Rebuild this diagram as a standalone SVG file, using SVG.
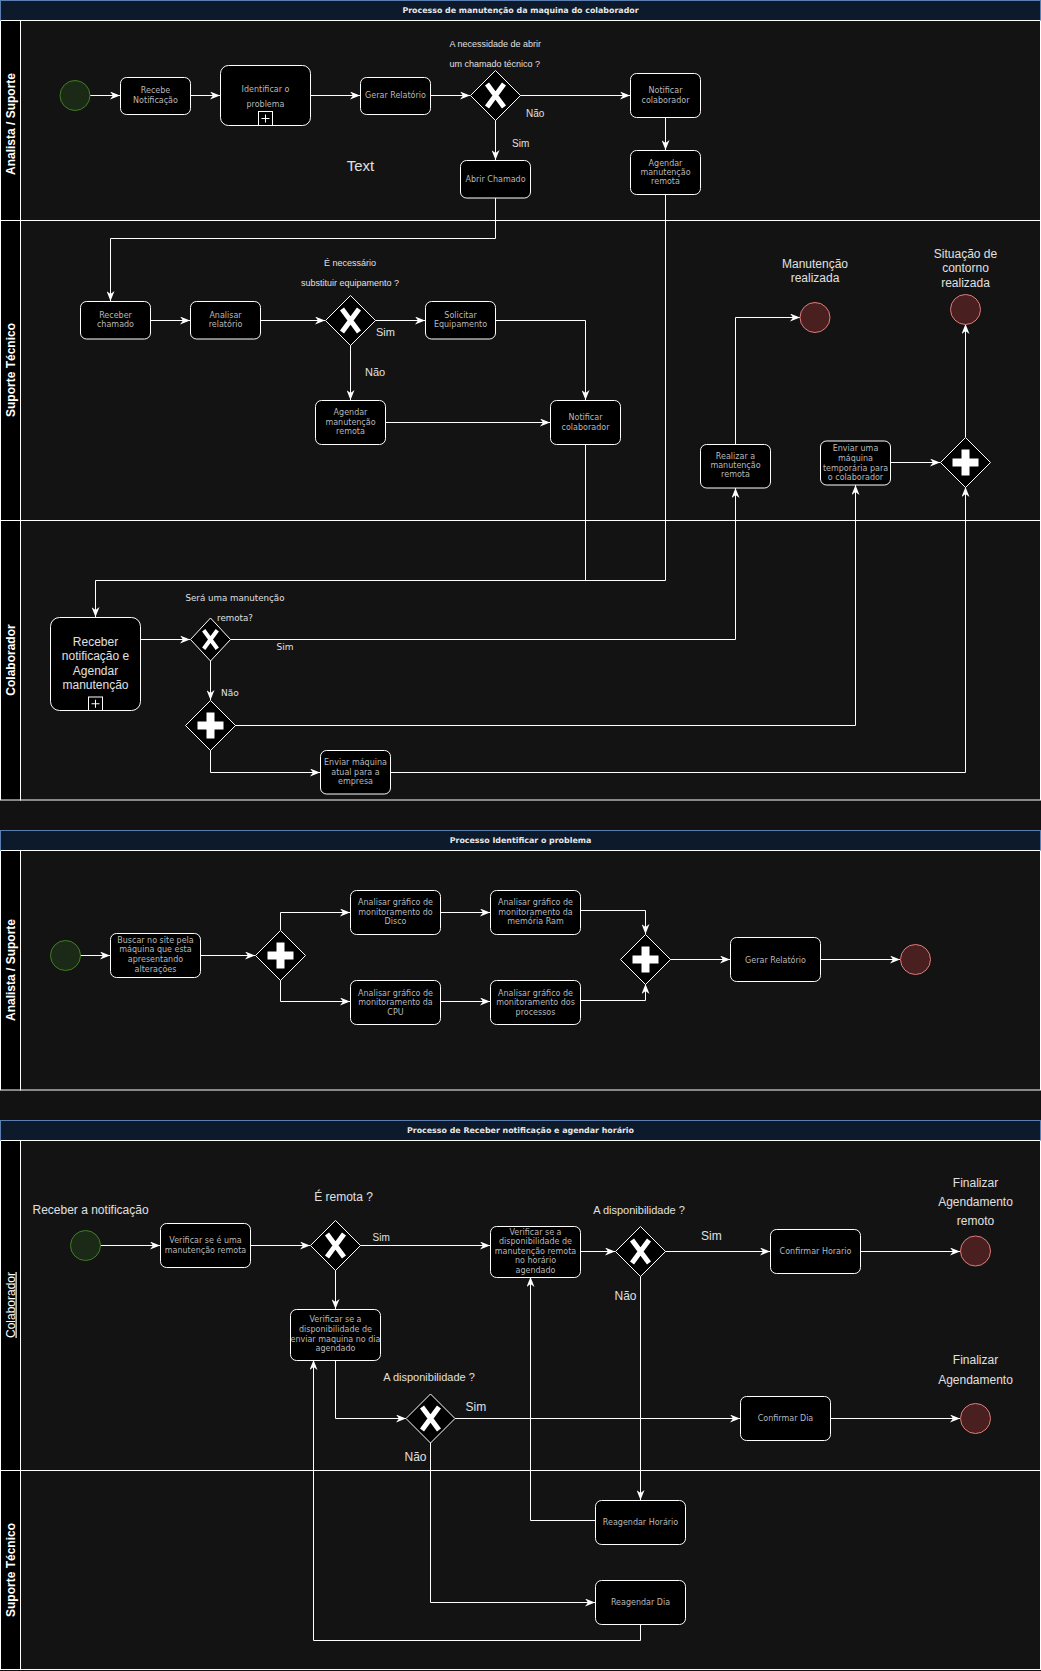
<svg xmlns="http://www.w3.org/2000/svg" xmlns:xlink="http://www.w3.org/1999/xlink" width="1041" height="1671" viewBox="0 0 1041 1671">
<defs>
<style>
.bg{fill:#121212}
.title{fill:#0d1a2c;stroke:#5b7fb0;stroke-width:1}
.titletxt{font-family:"DejaVu Sans",sans-serif;font-weight:bold;font-size:7.9px;fill:#e6e6e6;text-anchor:middle}
.lane{fill:#131313;stroke:#fff;stroke-width:1}
.laneh{fill:#000;stroke:#fff;stroke-width:1}
.sep{stroke:#fff;stroke-width:1}
.lanetxt{font-family:"Liberation Sans",Arial,sans-serif;font-weight:bold;font-size:12px;fill:#fff;text-anchor:middle}
.task{fill:#000;stroke:#fff;stroke-width:1}
.tt{font-family:"DejaVu Sans",sans-serif;font-size:8px;fill:#b8b8b8;text-anchor:middle}
.gw{fill:#000;stroke:#fff;stroke-width:1}
.start{fill:#1b2a16;stroke:#3f7f22;stroke-width:1}
.end{fill:#4a1f1f;stroke:#e07b7b;stroke-width:1}
.lbl{font-family:"Liberation Sans",Arial,sans-serif;fill:#e0e0e0}
.lbd{font-family:"DejaVu Sans",sans-serif;fill:#e0e0e0}
.c{fill:none;stroke:#fff;stroke-width:1}
.ca{fill:none;stroke:#fff;stroke-width:1;marker-end:url(#arr)}
</style>
<marker id="arr" viewBox="0 0 10 8" refX="10" refY="4" markerWidth="10" markerHeight="8" markerUnits="userSpaceOnUse" orient="auto">
<path d="M0,0 L10,4 L0,8 L3,4 Z" fill="#fff"/>
</marker>
<g id="xmark"><path d="M-8.5,-11.5 L8.5,11.5 M8.5,-11.5 L-8.5,11.5" stroke="#fff" stroke-width="5" fill="none"/></g>
<g id="plusmark"><rect x="-13" y="-4" width="26" height="8" fill="#fff"/><rect x="-4" y="-13" width="8" height="26" fill="#fff"/></g>
</defs>

<rect class="bg" x="0" y="0" width="1041" height="1671"/>

<!-- ===== Pool 1 ===== -->
<g id="pool1">
<rect class="lane" x="20.5" y="20.5" width="1020" height="779.5"/>
<rect class="laneh" x="0.5" y="20.5" width="20" height="779.5"/>
<line class="sep" x1="0.5" y1="220.5" x2="1040.5" y2="220.5"/>
<line class="sep" x1="0.5" y1="520.5" x2="1040.5" y2="520.5"/>
<rect class="title" x="0.5" y="0.5" width="1040" height="20"/>
<line class="sep" x1="0.5" y1="20.5" x2="1040.5" y2="20.5"/>
<text class="titletxt" x="520.5" y="13">Processo de manutenção da maquina do colaborador</text>
<text class="lanetxt" transform="translate(10.5,124) rotate(-90)" y="4">Analista / Suporte</text>
<text class="lanetxt" transform="translate(10.5,370) rotate(-90)" y="4">Suporte Técnico</text>
<text class="lanetxt" transform="translate(10.5,660) rotate(-90)" y="4">Colaborador</text>
</g>

<!-- ===== Pool 2 ===== -->
<g id="pool2">
<rect class="lane" x="20.5" y="850.5" width="1020" height="239.5"/>
<rect class="laneh" x="0.5" y="850.5" width="20" height="239.5"/>
<rect class="title" x="0.5" y="830.5" width="1040" height="20"/>
<line class="sep" x1="0.5" y1="850.5" x2="1040.5" y2="850.5"/>
<text class="titletxt" x="520.5" y="843">Processo Identificar o problema</text>
<text class="lanetxt" transform="translate(10.5,970) rotate(-90)" y="4">Analista / Suporte</text>
</g>

<!-- ===== Pool 3 ===== -->
<g id="pool3">
<rect class="lane" x="20.5" y="1140.5" width="1020" height="529"/>
<rect class="laneh" x="0.5" y="1140.5" width="20" height="529"/>
<line class="sep" x1="0.5" y1="1470.5" x2="1040.5" y2="1470.5"/>
<rect class="title" x="0.5" y="1120.5" width="1040" height="20"/>
<line class="sep" x1="0.5" y1="1140.5" x2="1040.5" y2="1140.5"/>
<text class="titletxt" x="520.5" y="1133">Processo de Receber notificação e agendar horário</text>
<text class="lanetxt" transform="translate(10.5,1305) rotate(-90)" y="4" style="font-weight:normal;text-decoration:underline">Colaborador</text>
<text class="lanetxt" transform="translate(10.5,1570) rotate(-90)" y="4">Suporte Técnico</text>
</g>

<!-- ===== Connectors ===== -->
<g id="connectors">
<!-- pool 1 -->
<path class="ca" d="M90,95.5 L120,95.5"/>
<path class="ca" d="M190,95.5 L220,95.5"/>
<path class="ca" d="M310,95.5 L360,95.5"/>
<path class="ca" d="M430,95.5 L470,95.5"/>
<path class="ca" d="M520,95.5 L630,95.5"/>
<path class="ca" d="M495.5,120 L495.5,160"/>
<path class="ca" d="M665.5,117 L665.5,150"/>
<path class="ca" d="M495.5,198 L495.5,238.5 L110.5,238.5 L110.5,301"/>
<path class="ca" d="M150,320.5 L190,320.5"/>
<path class="ca" d="M260,320.5 L325,320.5"/>
<path class="ca" d="M375,320.5 L425,320.5"/>
<path class="ca" d="M350.5,345 L350.5,400"/>
<path class="ca" d="M495,320.5 L585.5,320.5 L585.5,400"/>
<path class="ca" d="M385,422.5 L550,422.5"/>
<path class="c" d="M585.5,444 L585.5,580.5"/>
<path class="ca" d="M665.5,194 L665.5,580.5 L95.5,580.5 L95.5,617"/>
<path class="ca" d="M140,639.5 L190,639.5"/>
<path class="ca" d="M230,639.5 L735.5,639.5 L735.5,488"/>
<path class="ca" d="M735.5,444 L735.5,317.5 L800,317.5"/>
<path class="ca" d="M210.5,660 L210.5,700"/>
<path class="ca" d="M235,725.5 L855.5,725.5 L855.5,485"/>
<path class="ca" d="M210.5,750 L210.5,772.5 L320,772.5"/>
<path class="ca" d="M390,772.5 L965.5,772.5 L965.5,487"/>
<path class="ca" d="M890,462.5 L940,462.5"/>
<path class="ca" d="M965.5,437 L965.5,324"/>
<!-- pool 2 -->
<path class="ca" d="M80,955.5 L110,955.5"/>
<path class="ca" d="M200,955.5 L255,955.5"/>
<path class="ca" d="M280.5,930 L280.5,912.5 L350,912.5"/>
<path class="ca" d="M280.5,980 L280.5,1001.5 L350,1001.5"/>
<path class="ca" d="M440,912.5 L490,912.5"/>
<path class="ca" d="M440,1001.5 L490,1001.5"/>
<path class="ca" d="M580,910.5 L645.5,910.5 L645.5,934"/>
<path class="ca" d="M580,1000.5 L645.5,1000.5 L645.5,984"/>
<path class="ca" d="M670,959.5 L730,959.5"/>
<path class="ca" d="M820,959.5 L900,959.5"/>
<!-- pool 3 -->
<path class="ca" d="M100,1245.5 L160,1245.5"/>
<path class="ca" d="M250,1245.5 L310,1245.5"/>
<path class="ca" d="M360,1245.5 L490,1245.5"/>
<path class="ca" d="M335.5,1270 L335.5,1309"/>
<path class="ca" d="M580,1251.5 L615,1251.5"/>
<path class="ca" d="M665,1251.5 L770,1251.5"/>
<path class="ca" d="M860,1251.5 L960,1251.5"/>
<path class="ca" d="M640.5,1276 L640.5,1500"/>
<path class="ca" d="M595,1520.5 L530.5,1520.5 L530.5,1277"/>
<path class="ca" d="M335.5,1360 L335.5,1418.5 L406,1418.5"/>
<path class="ca" d="M455,1418.5 L740,1418.5"/>
<path class="ca" d="M830,1418.5 L960,1418.5"/>
<path class="ca" d="M430.5,1443 L430.5,1602.5 L595,1602.5"/>
<path class="ca" d="M640.5,1624 L640.5,1640.5 L313.5,1640.5 L313.5,1360"/>
</g>

<!-- ===== Pool 1 nodes ===== -->
<g id="p1-start"><circle class="start" cx="75" cy="95.5" r="15"/></g>
<g id="p1-recebe"><rect class="task" x="120.5" y="77.5" width="70" height="37" rx="6"/>
<text class="tt" x="155.5" y="93">Recebe</text><text class="tt" x="155.5" y="103">Notificação</text></g>
<g id="p1-identificar"><rect class="task" x="220.5" y="65.5" width="90" height="60" rx="8"/>
<text class="tt" x="265.5" y="92">Identificar o</text><text class="tt" x="265.5" y="107">problema</text>
<rect x="258.5" y="111.5" width="14" height="14" fill="#000" stroke="#fff"/>
<path d="M261.5,118.5 H269.5 M265.5,114.5 V122.5" stroke="#fff" stroke-width="1"/></g>
<g id="p1-gerar"><rect class="task" x="360.5" y="77.5" width="70" height="37" rx="6"/>
<text class="tt" x="395.5" y="98">Gerar Relatório</text></g>
<g id="p1-gw1"><polygon class="gw" points="495.5,70.5 520.5,95.5 495.5,120.5 470.5,95.5"/><use xlink:href="#xmark" transform="translate(495.5,95.5)"/>
<text class="lbl" x="449.5" y="46.5" font-size="9">A necessidade de abrir</text>
<text class="lbl" x="449.5" y="66.5" font-size="9">um chamado técnico ?</text></g>
<g id="p1-lbl-nao1"><text class="lbl" x="526" y="116.5" font-size="10">Não</text></g>
<g id="p1-lbl-sim1"><text class="lbl" x="512" y="146.5" font-size="10">Sim</text></g>
<g id="p1-text"><text class="lbl" x="360.5" y="171" font-size="15" text-anchor="middle">Text</text></g>
<g id="p1-abrir"><rect class="task" x="460.5" y="160.5" width="70" height="37.5" rx="6"/>
<text class="tt" x="495.5" y="182">Abrir Chamado</text></g>
<g id="p1-notificar1"><rect class="task" x="630.5" y="73.5" width="70" height="44" rx="6"/>
<text class="tt" x="665.5" y="93">Notificar</text><text class="tt" x="665.5" y="103">colaborador</text></g>
<g id="p1-agendar1"><rect class="task" x="630.5" y="150.5" width="70" height="44" rx="6"/>
<text class="tt" x="665.5" y="165.5">Agendar</text><text class="tt" x="665.5" y="174.5">manutenção</text><text class="tt" x="665.5" y="183.5">remota</text></g>

<g id="p1-receber-chamado"><rect class="task" x="80.5" y="301.5" width="70" height="37.5" rx="6"/>
<text class="tt" x="115.5" y="317.5">Receber</text><text class="tt" x="115.5" y="327">chamado</text></g>
<g id="p1-analisar"><rect class="task" x="190.5" y="301.5" width="70" height="37.5" rx="6"/>
<text class="tt" x="225.5" y="317.5">Analisar</text><text class="tt" x="225.5" y="327">relatório</text></g>
<g id="p1-gw2"><polygon class="gw" points="350.5,295.5 375.5,320.5 350.5,345.5 325.5,320.5"/><use xlink:href="#xmark" transform="translate(350.5,320.5)"/>
<text class="lbl" x="350" y="266" font-size="9" text-anchor="middle">É necessário</text>
<text class="lbl" x="350" y="286" font-size="9" text-anchor="middle">substituir equipamento ?</text></g>
<g id="p1-lbl-sim2"><text class="lbl" x="376" y="336" font-size="11">Sim</text></g>
<g id="p1-lbl-nao2"><text class="lbl" x="365" y="376" font-size="11">Não</text></g>
<g id="p1-solicitar"><rect class="task" x="425.5" y="301.5" width="70" height="37.5" rx="6"/>
<text class="tt" x="460.5" y="317.5">Solicitar</text><text class="tt" x="460.5" y="327">Equipamento</text></g>
<g id="p1-agendar2"><rect class="task" x="315.5" y="400.5" width="70" height="44" rx="6"/>
<text class="tt" x="350.5" y="415">Agendar</text><text class="tt" x="350.5" y="425">manutenção</text><text class="tt" x="350.5" y="434">remota</text></g>
<g id="p1-notificar2"><rect class="task" x="550.5" y="400.5" width="70" height="44" rx="6"/>
<text class="tt" x="585.5" y="420">Notificar</text><text class="tt" x="585.5" y="430">colaborador</text></g>
<g id="p1-realizar"><rect class="task" x="700.5" y="444.5" width="70" height="43.5" rx="6"/>
<text class="tt" x="735.5" y="458.5">Realizar a</text><text class="tt" x="735.5" y="468">manutenção</text><text class="tt" x="735.5" y="477">remota</text></g>
<g id="p1-end1"><circle class="end" cx="815" cy="317.5" r="15"/>
<text class="lbl" x="815" y="267.5" font-size="12" text-anchor="middle">Manutenção</text>
<text class="lbl" x="815" y="282" font-size="12" text-anchor="middle">realizada</text></g>
<g id="p1-enviar-temp"><rect class="task" x="820.5" y="441" width="70" height="44" rx="6"/>
<text class="tt" x="855.5" y="450.5">Enviar uma</text><text class="tt" x="855.5" y="460.5">máquina</text><text class="tt" x="855.5" y="470.5">temporária para</text><text class="tt" x="855.5" y="479.5">o colaborador</text></g>
<g id="p1-gw-plus1"><polygon class="gw" points="965.5,437.5 990.5,462.5 965.5,487.5 940.5,462.5"/><use xlink:href="#plusmark" transform="translate(965.5,462.5)"/></g>
<g id="p1-end2"><circle class="end" cx="965.5" cy="309.5" r="15"/>
<text class="lbl" x="965.5" y="257.5" font-size="12" text-anchor="middle">Situação de</text>
<text class="lbl" x="965.5" y="272" font-size="12" text-anchor="middle">contorno</text>
<text class="lbl" x="965.5" y="287" font-size="12" text-anchor="middle">realizada</text></g>

<g id="p1-receber-notif"><rect class="task" x="50.5" y="617.5" width="90" height="93" rx="9"/>
<text class="lbl" x="95.5" y="646" font-size="12" text-anchor="middle">Receber</text>
<text class="lbl" x="95.5" y="660" font-size="12" text-anchor="middle">notificação e</text>
<text class="lbl" x="95.5" y="675" font-size="12" text-anchor="middle">Agendar</text>
<text class="lbl" x="95.5" y="689" font-size="12" text-anchor="middle">manutenção</text>
<rect x="88.5" y="697" width="14" height="13.5" fill="#000" stroke="#fff"/>
<path d="M91.5,703.75 H99.5 M95.5,699.75 V707.75" stroke="#fff" stroke-width="1"/></g>
<g id="p1-gw3"><polygon class="gw" points="210.5,618 230.5,639.5 210.5,661 190.5,639.5"/><use xlink:href="#xmark" transform="translate(210.5,639.5) scale(0.8)"/>
<text class="lbd" x="235" y="601" font-size="8.7" text-anchor="middle">Será uma manutenção</text>
<text class="lbd" x="235" y="621" font-size="8.7" text-anchor="middle">remota?</text></g>
<g id="p1-lbl-sim3"><text class="lbd" x="276.5" y="650" font-size="9">Sim</text></g>
<g id="p1-lbl-nao3"><text class="lbd" x="221" y="696" font-size="9">Não</text></g>
<g id="p1-gw-plus2"><polygon class="gw" points="210.5,700.5 235.5,725.5 210.5,750.5 185.5,725.5"/><use xlink:href="#plusmark" transform="translate(210.5,725.5)"/></g>
<g id="p1-enviar-atual"><rect class="task" x="320.5" y="750.5" width="70" height="43.5" rx="6"/>
<text class="tt" x="355.5" y="765">Enviar máquina</text><text class="tt" x="355.5" y="775">atual para a</text><text class="tt" x="355.5" y="784">empresa</text></g>

<!-- ===== Pool 2 nodes ===== -->
<g id="p2-start"><circle class="start" cx="65.5" cy="955.5" r="15"/></g>
<g id="p2-buscar"><rect class="task" x="110.5" y="933.5" width="90" height="44" rx="6"/>
<text class="tt" x="155.5" y="942.5">Buscar no site pela</text><text class="tt" x="155.5" y="952">máquina que esta</text><text class="tt" x="155.5" y="962">apresentando</text><text class="tt" x="155.5" y="971.5">alterações</text></g>
<g id="p2-gw1"><polygon class="gw" points="280.5,930.5 305.5,955.5 280.5,980.5 255.5,955.5"/><use xlink:href="#plusmark" transform="translate(280.5,955.5)"/></g>
<g id="p2-disco"><rect class="task" x="350.5" y="890.5" width="90" height="44" rx="6"/>
<text class="tt" x="395.5" y="905">Analisar gráfico de</text><text class="tt" x="395.5" y="914.5">monitoramento do</text><text class="tt" x="395.5" y="924">Disco</text></g>
<g id="p2-ram"><rect class="task" x="490.5" y="890.5" width="90" height="44" rx="6"/>
<text class="tt" x="535.5" y="905">Analisar gráfico de</text><text class="tt" x="535.5" y="914.5">monitoramento da</text><text class="tt" x="535.5" y="924">memória Ram</text></g>
<g id="p2-cpu"><rect class="task" x="350.5" y="980.5" width="90" height="44" rx="6"/>
<text class="tt" x="395.5" y="995.5">Analisar gráfico de</text><text class="tt" x="395.5" y="1005">monitoramento da</text><text class="tt" x="395.5" y="1014.5">CPU</text></g>
<g id="p2-processos"><rect class="task" x="490.5" y="980.5" width="90" height="44" rx="6"/>
<text class="tt" x="535.5" y="995.5">Analisar gráfico de</text><text class="tt" x="535.5" y="1005">monitoramento dos</text><text class="tt" x="535.5" y="1014.5">processos</text></g>
<g id="p2-gw2"><polygon class="gw" points="645.5,934.5 670.5,959.5 645.5,984.5 620.5,959.5"/><use xlink:href="#plusmark" transform="translate(645.5,959.5)"/></g>
<g id="p2-gerar"><rect class="task" x="730.5" y="937.5" width="90" height="44" rx="6"/>
<text class="tt" x="775.5" y="962.5">Gerar Relatório</text></g>
<g id="p2-end"><circle class="end" cx="915.5" cy="959.5" r="15"/></g>

<!-- ===== Pool 3 nodes ===== -->
<g id="p3-start"><circle class="start" cx="85.5" cy="1245.5" r="15"/>
<text class="lbl" x="32.5" y="1213.5" font-size="12">Receber a notificação</text></g>
<g id="p3-verif-remota"><rect class="task" x="160.5" y="1223.5" width="90" height="44" rx="6"/>
<text class="tt" x="205.5" y="1243">Verificar se é uma</text><text class="tt" x="205.5" y="1253">manutenção remota</text></g>
<g id="p3-gw1"><polygon class="gw" points="335.5,1220.5 360.5,1245.5 335.5,1270.5 310.5,1245.5"/><use xlink:href="#xmark" transform="translate(335.5,1245.5)"/>
<text class="lbl" x="343.5" y="1201" font-size="12" text-anchor="middle">É remota ?</text></g>
<g id="p3-lbl-sim1"><text class="lbl" x="372.5" y="1240.5" font-size="10">Sim</text></g>
<g id="p3-verif-horario"><rect class="task" x="490.5" y="1226.5" width="90" height="51" rx="6"/>
<text class="tt" x="535.5" y="1235">Verificar se a</text><text class="tt" x="535.5" y="1244">disponibilidade de</text><text class="tt" x="535.5" y="1254">manutenção remota</text><text class="tt" x="535.5" y="1263">no horário</text><text class="tt" x="535.5" y="1273">agendado</text></g>
<g id="p3-gw2"><polygon class="gw" points="640.5,1226.5 665.5,1251.5 640.5,1276.5 615.5,1251.5"/><use xlink:href="#xmark" transform="translate(640.5,1251.5)"/>
<text class="lbl" x="639" y="1214" font-size="11" text-anchor="middle">A disponibilidade ?</text></g>
<g id="p3-lbl-sim2"><text class="lbl" x="701" y="1240" font-size="12">Sim</text></g>
<g id="p3-lbl-nao2"><text class="lbl" x="614.5" y="1300" font-size="12">Não</text></g>
<g id="p3-confirmar-horario"><rect class="task" x="770.5" y="1229.5" width="90" height="44" rx="6"/>
<text class="tt" x="815.5" y="1254">Confirmar Horario</text></g>
<g id="p3-end1"><circle class="end" cx="975.5" cy="1251" r="15"/>
<text class="lbl" x="975.5" y="1187" font-size="12" text-anchor="middle">Finalizar</text>
<text class="lbl" x="975.5" y="1206" font-size="12" text-anchor="middle">Agendamento</text>
<text class="lbl" x="975.5" y="1225" font-size="12" text-anchor="middle">remoto</text></g>
<g id="p3-verif-enviar"><rect class="task" x="290.5" y="1309.5" width="90" height="51" rx="6"/>
<text class="tt" x="335.5" y="1322" font-size="7">Verificar se a</text><text class="tt" x="335.5" y="1332" font-size="7">disponibilidade de</text><text class="tt" x="335.5" y="1342" font-size="7">enviar maquina no dia</text><text class="tt" x="335.5" y="1351" font-size="7">agendado</text></g>
<g id="p3-gw3"><polygon class="gw" points="430.5,1394 455,1418.5 430.5,1443 406,1418.5"/><use xlink:href="#xmark" transform="translate(430.5,1418.5)"/>
<text class="lbl" x="429" y="1381" font-size="11" text-anchor="middle">A disponibilidade ?</text></g>
<g id="p3-lbl-sim3"><text class="lbl" x="465.5" y="1411" font-size="12">Sim</text></g>
<g id="p3-lbl-nao3"><text class="lbl" x="404.5" y="1461" font-size="12">Não</text></g>
<g id="p3-confirmar-dia"><rect class="task" x="740.5" y="1396.5" width="90" height="44" rx="6"/>
<text class="tt" x="785.5" y="1421">Confirmar Dia</text></g>
<g id="p3-end2"><circle class="end" cx="975.5" cy="1418.5" r="15"/>
<text class="lbl" x="975.5" y="1364" font-size="12" text-anchor="middle">Finalizar</text>
<text class="lbl" x="975.5" y="1384" font-size="12" text-anchor="middle">Agendamento</text></g>
<g id="p3-reagendar-horario"><rect class="task" x="595.5" y="1500.5" width="90" height="44" rx="6"/>
<text class="tt" x="640.5" y="1525">Reagendar Horário</text></g>
<g id="p3-reagendar-dia"><rect class="task" x="595.5" y="1580.5" width="90" height="44" rx="6"/>
<text class="tt" x="640.5" y="1605">Reagendar Dia</text></g>
</svg>
